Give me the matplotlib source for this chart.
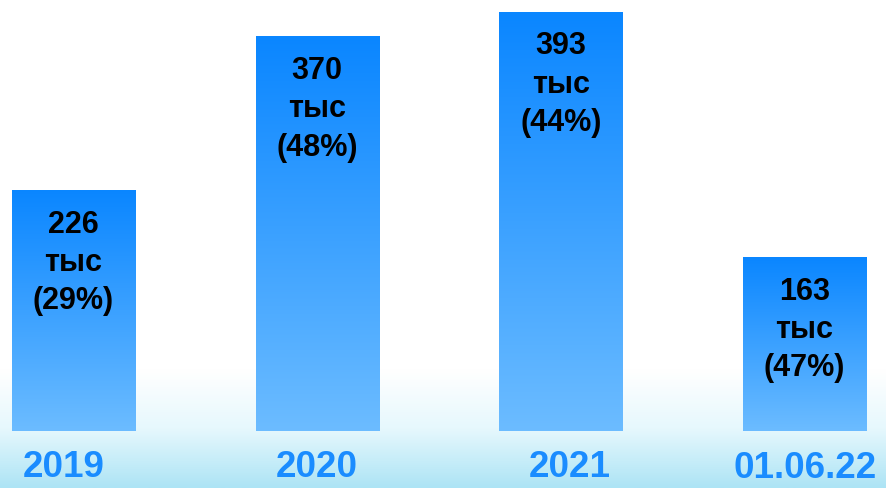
import numpy as np
import matplotlib
matplotlib.use("Agg")
import matplotlib.pyplot as plt
import matplotlib.transforms as mtransforms
from matplotlib.colors import LinearSegmentedColormap

plt.rcParams['font.family'] = ['Liberation Sans', 'DejaVu Sans']

categories = ['2019', '2020', '2021', '01.06.22']
values = [226, 370, 393, 163]
shares = [29, 48, 44, 47]
unit = 'тыс'

fig = plt.figure(figsize=(8.87, 4.88), dpi=100)

# background: white with a pale cyan band at the bottom
bg = fig.add_axes([0, 0, 1, 1], zorder=-1)
bg_cmap = LinearSegmentedColormap.from_list(
    'bg', [(0, '#ffffff'), (0.76, '#ffffff'), (0.88, '#e6f8fd'), (1, '#ade4f5')])
grad = np.linspace(0, 1, 256).reshape(-1, 1)
bg.imshow(grad, aspect='auto', cmap=bg_cmap, extent=[0, 1, 0, 1], origin='upper')
bg.axis('off')

ax = fig.add_axes([0, 0.1168, 1, 0.8832])
ax.patch.set_alpha(0)
x = np.arange(len(categories))
bars = ax.bar(x, values, width=0.505, color='none', edgecolor='none')

bar_cmap = LinearSegmentedColormap.from_list('bar', ['#6cbcff', '#0a86ff'])
for b, v, s in zip(bars, values, shares):
    x0 = b.get_x()
    w = b.get_width()
    h = b.get_height()
    im = ax.imshow(np.linspace(0, 1, 256).reshape(-1, 1), aspect='auto', cmap=bar_cmap,
                   extent=[x0, x0 + w, 0, h], origin='lower', zorder=2)
    im.set_clip_path(b)
    ax.text(x0 + w / 2, h - 18.5, f'{v}\n{unit}\n({s}%)', ha='center', va='top',
            fontsize=22, fontweight='bold', color='black', linespacing=1.36, zorder=3)

ax.set_xlim(-0.3016, 3.3385)
ax.set_ylim(0, 404)
ax.set_xticks(x, categories)
ax.tick_params(axis='x', length=0, pad=14, labelsize=26.5, labelcolor='#1a8cff')
# labels in the original are not exactly centred under the bars
shifts = [(-10, 0), (0, 0), (9, 0), (1, -1)]
for lbl, (dx, dy) in zip(ax.get_xticklabels(), shifts):
    lbl.set_fontweight('bold')
    lbl.set_transform(lbl.get_transform() +
                      mtransforms.ScaledTranslation(dx / 100, dy / 100, fig.dpi_scale_trans))
ax.set_yticks([])
for sp in ax.spines.values():
    sp.set_visible(False)

fig.savefig('out.png', dpi=100)
